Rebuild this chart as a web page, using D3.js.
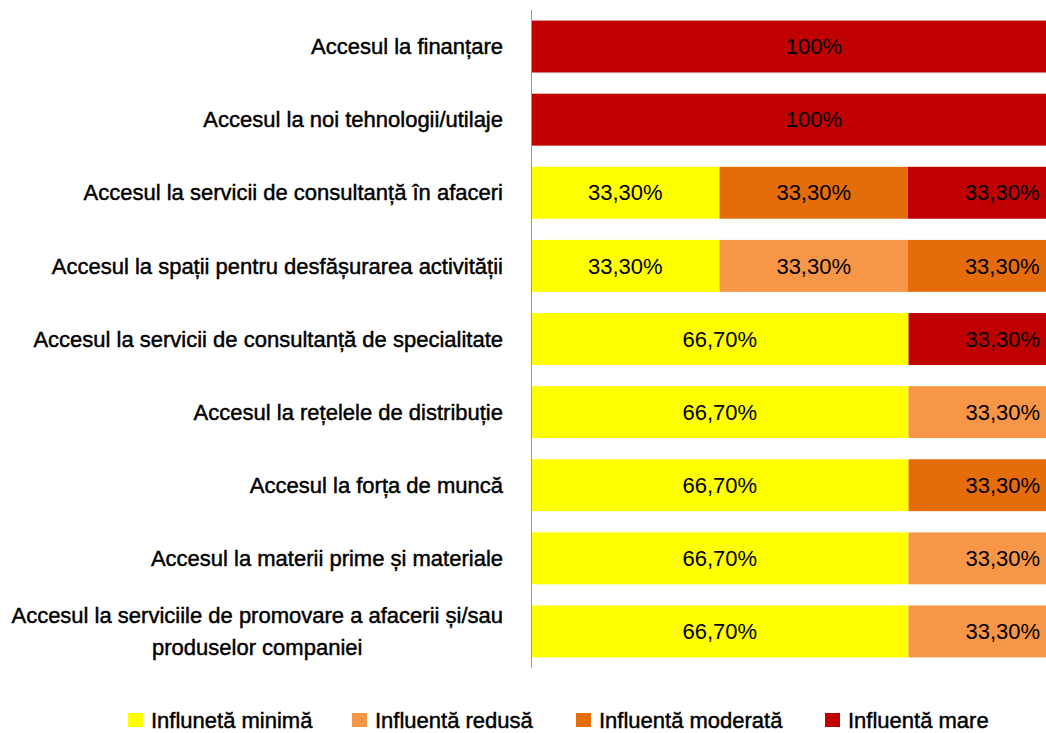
<!DOCTYPE html>
<html>
<head>
<meta charset="utf-8">
<script src="https://cdn.jsdelivr.net/npm/d3@7"></script>
<style>
  body { margin: 0; background: #fff; }
  text { font-family: "Liberation Sans Narrow", "Arial Narrow", "Liberation Sans", sans-serif; fill: #000; }
  .cat text, .legend text { stroke: #000; stroke-width: 0.45px; }
</style>
</head>
<body>
<div id="chart"></div>
<script>
// categories, top to bottom
const categories = [
    ['Accesul la finanțare'],
    ['Accesul la noi tehnologii/utilaje'],
    ['Accesul la servicii de consultanță în afaceri'],
    ['Accesul la spații pentru desfășurarea activității'],
    ['Accesul la servicii de consultanță de specialitate'],
    ['Accesul la rețelele de distribuție'],
    ['Accesul la forța de muncă'],
    ['Accesul la materii prime și materiale'],
    ['Accesul la serviciile de promovare a afacerii și/sau', 'produselor companiei']
];

// series values (%)
const minima   = [0, 0, 33.3, 33.3, 66.7, 66.7, 66.7, 66.7, 66.7];
const redusa   = [0, 0, 0, 33.3, 0, 33.3, 0, 33.3, 33.3];
const moderata = [0, 0, 33.3, 33.3, 0, 0, 33.3, 0, 0];
const mare     = [100, 100, 33.3, 0, 33.3, 0, 0, 0, 0];

const seriesNames = ['Influnetă minimă', 'Influentă redusă', 'Influentă moderată', 'Influentă mare'];
const seriesKeys = ['minima', 'redusa', 'moderata', 'mare'];
const colors = ['#FFFF00', '#F79646', '#E46C0A', '#C00000'];

const width = 1046, height = 733;

const rows = categories.map((c, i) => ({
    id: i,
    lines: c,
    minima: minima[i],
    redusa: redusa[i],
    moderata: moderata[i],
    mare: mare[i]
}));

const svg = d3.select('#chart')
    .append('svg')
    .attr('width', width)
    .attr('height', height);

var x = d3.scaleLinear()
    .domain([0, 100])
    .range([531, 1097]);

var y = d3.scaleBand()
    .domain(rows.map(d => d.id))
    .range([10, 668])
    .paddingInner(0.29)
    .paddingOuter(0.145);

const stack = d3.stack().keys(seriesKeys);
const stacked = stack(rows);

const color = d3.scaleOrdinal().domain(seriesKeys).range(colors);

// bars
const layers = svg.selectAll('.layer')
    .data(stacked)
    .enter().append('g')
    .attr('class', 'layer')
    .attr('fill', d => color(d.key));

layers.selectAll('rect')
    .data(d => d.filter(s => s[1] - s[0] > 0))
    .enter().append('rect')
    .attr('x', d => x(d[0]))
    .attr('y', d => y(d.data.id))
    .attr('width', d => x(d[1]) - x(d[0]))
    .attr('height', y.bandwidth());

// value labels
const fmt = v => v === 100 ? '100%' : v.toFixed(2).replace('.', ',') + '%';

layers.selectAll('.val')
    .data(d => d.filter(s => s[1] - s[0] > 0))
    .enter().append('text')
    .attr('class', 'val')
    .attr('x', d => (x(d[0]) + x(d[1])) / 2)
    .attr('y', d => y(d.data.id) + y.bandwidth() / 2)
    .attr('dy', '0.35em')
    .attr('text-anchor', 'middle')
    .style('font-size', '22px')
    .text(d => fmt(d[1] - d[0]));

// category axis
svg.append('line')
    .attr('x1', 531.5).attr('x2', 531.5)
    .attr('y1', 10).attr('y2', 668)
    .attr('stroke', '#999')
    .attr('stroke-width', 1);

const lineH = 32;
const cats = svg.selectAll('.cat')
    .data(rows)
    .enter().append('g')
    .attr('class', 'cat');

cats.each(function(d) {
    const g = d3.select(this);
    const cy = y(d.id) + y.bandwidth() / 2;
    const n = d.lines.length;
    const t = g.append('text')
        .style('font-size', '22px')
        .attr('text-anchor', 'end');
    d.lines.forEach((ln, k) => {
        t.append('tspan')
            .attr('x', 503)
            .attr('y', cy + (k - (n - 1) / 2) * lineH)
            .attr('dy', '0.35em')
            .text(ln);
    });
    if (n > 1) {
        // center the lines of a wrapped label as a block
        const w = t.node().getBBox().width;
        t.attr('text-anchor', 'middle');
        t.selectAll('tspan').attr('x', 503 - w / 2);
    }
});

// legend
const legendX = [128, 352, 576, 825];
const legend = svg.selectAll('.legend')
    .data(seriesKeys)
    .enter().append('g')
    .attr('class', 'legend')
    .attr('transform', (d, i) => 'translate(' + legendX[i] + ',720)');

legend.append('rect')
    .attr('x', 0)
    .attr('y', -7)
    .attr('width', 15)
    .attr('height', 14)
    .attr('fill', d => color(d));

legend.append('text')
    .attr('x', 23)
    .attr('dy', '0.35em')
    .style('font-size', '22px')
    .text((d, i) => seriesNames[i]);
</script>
</body>
</html>
